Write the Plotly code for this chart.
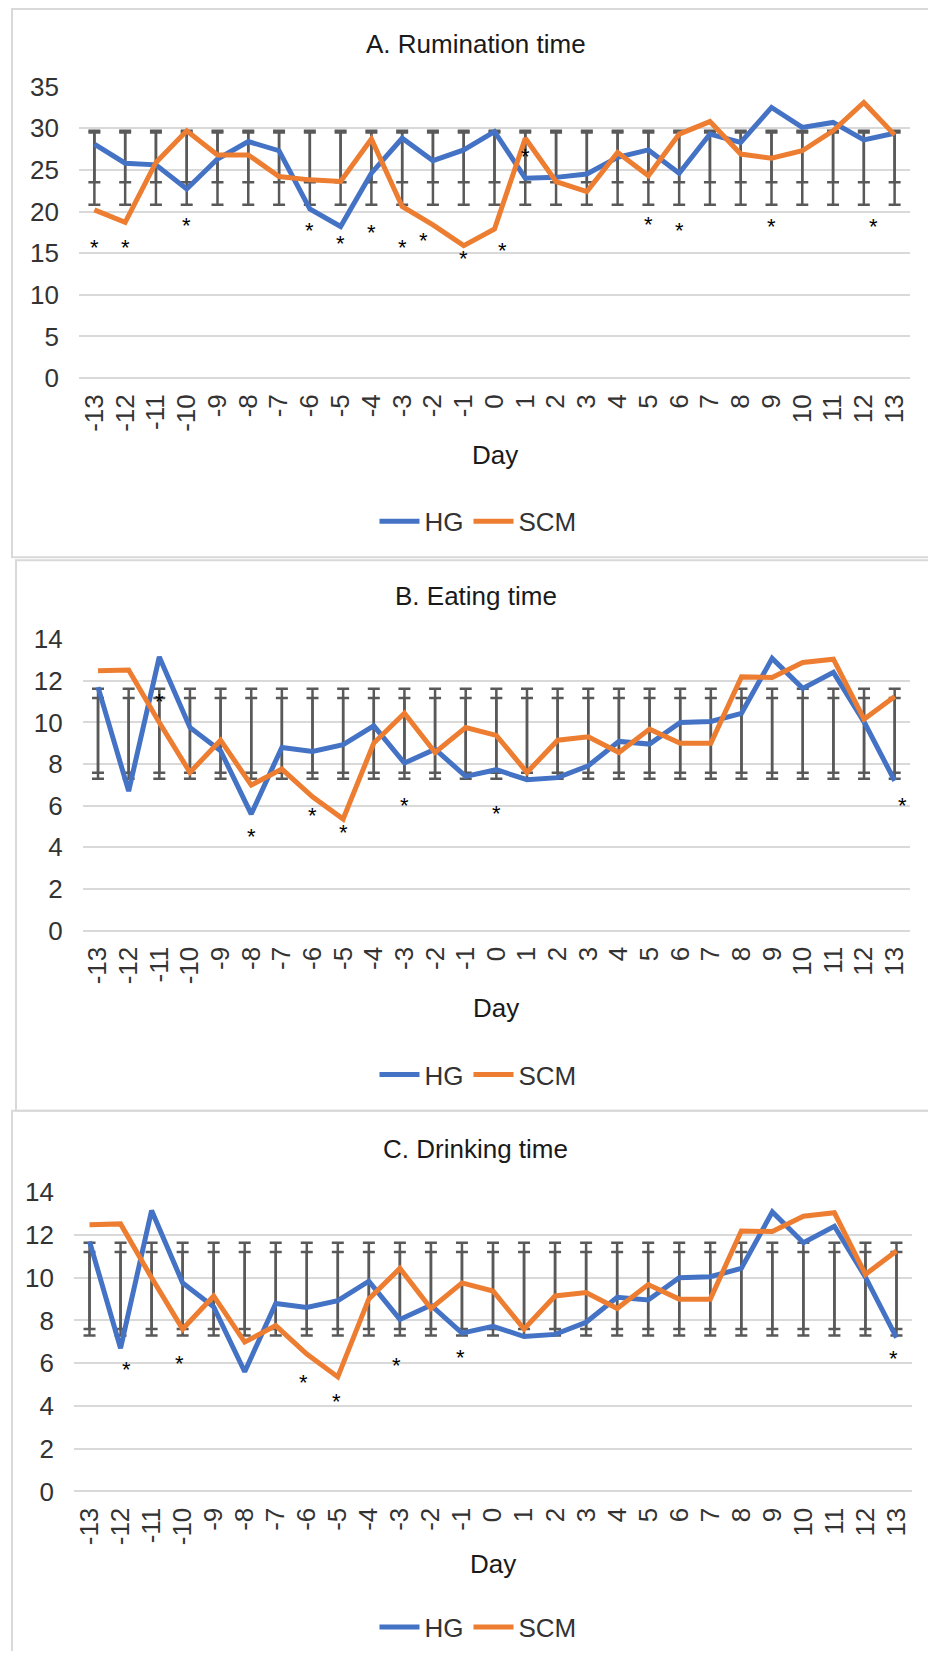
import plotly.graph_objects as go

# The page body has an 8px default margin; the figure is sized and positioned to fit the window.
OX, OY = 8, 8
W, H = 936 - 2 * OX, 1659 - 2 * OY


def px_x(x):
    return (x - OX) / W


def px_y(y):
    return 1 - (y - OY) / H


days = list(range(-13, 14))
day_labels = [str(d) for d in days]

# A. Rumination time
rum_hg = [28.1, 25.8, 25.6, 22.7, 26.3, 28.4, 27.3, 20.3, 18.2, 24.6, 28.8, 26.1, 27.4,
          29.6, 24.0, 24.1, 24.5, 26.5, 27.4, 24.6, 29.3, 28.3, 32.5, 30.1, 30.7, 28.6, 29.4]
rum_scm = [20.2, 18.7, 25.9, 29.7, 26.8, 26.8, 24.2, 23.8, 23.6, 28.7, 20.6, 18.4, 15.9,
           17.9, 28.8, 23.6, 22.4, 27.1, 24.3, 29.3, 30.8, 26.9, 26.4, 27.3, 29.7, 33.1, 29.2]
rum_err = [(20.8, 29.7), (23.5, 29.5)]
rum_star_x = [-13, -12, -10, -6, -5, -4, -3, -2.3, -1, 0.25, 1, 5, 6, 9, 12.3]
rum_star_y = [15.9, 15.9, 18.6, 18.0, 16.4, 17.7, 15.9, 16.7, 14.6, 15.6, 26.9, 18.7, 17.9, 18.5, 18.5]

# B. Eating time
eat_hg = [11.7, 6.7, 13.15, 9.76, 8.64, 5.6, 8.8, 8.61, 8.93, 9.84, 8.05, 8.72, 7.41,
          7.73, 7.25, 7.35, 7.92, 9.09, 8.96, 10.0, 10.05, 10.44, 13.08, 11.64, 12.41, 10.03, 7.2]
eat_scm = [12.48, 12.52, 10.0, 7.6, 9.15, 6.99, 7.76, 6.43, 5.36, 9.01, 10.44, 8.56, 9.76,
           9.38, 7.6, 9.15, 9.31, 8.56, 9.68, 9.0, 9.0, 12.19, 12.16, 12.88, 13.04, 10.16, 11.25]
eat_err = [(7.3, 11.62), (7.58, 11.18)]
eat_star_x = [-11, -8, -6, -5, -3, 0, 13.25]
eat_star_y = [11.1, 4.6, 5.65, 4.8, 6.13, 5.7, 6.1]

# C. Drinking time
drk_hg = list(eat_hg)
drk_scm = list(eat_scm)
drk_err = [(7.3, 11.64), (7.6, 11.2)]
drk_star_x = [-11.8, -10.1, -6.1, -5.05, -3.1, -1.05, 12.9]
drk_star_y = [5.8, 6.1, 5.2, 4.3, 6.0, 6.35, 6.3]

BLUE = "#4472C4"
ORANGE = "#ED7D31"
GRID = "#d9d9d9"
ERRC = "#595959"
TXT = "#333333"
FONT = "Liberation Sans, Arial, sans-serif"

panels = [
    dict(title="A. Rumination time", hg=rum_hg, scm=rum_scm, err=rum_err,
         sx=rum_star_x, sy=rum_star_y, yr=[0, 35], dt=5,
         xd=(79, 910), yd=(378.5, 86.7), title_y=44, day_y=456, leg_y=522, leg_x=478),
    dict(title="B. Eating time", hg=eat_hg, scm=eat_scm, err=eat_err,
         sx=eat_star_x, sy=eat_star_y, yr=[0, 14], dt=2,
         xd=(82.7, 910), yd=(931.7, 640), title_y=597, day_y=1009, leg_y=1076, leg_x=478),
    dict(title="C. Drinking time", hg=drk_hg, scm=drk_scm, err=drk_err,
         sx=drk_star_x, sy=drk_star_y, yr=[0, 14], dt=2,
         xd=(74, 912), yd=(1493.3, 1193.7), title_y=1150, day_y=1566, leg_y=1629, leg_x=478),
]

fig = go.Figure()
annotations = []
shapes = []
frames = [(12, 9, 558), (16, 561, 1112), (12, 1112, 1720)]
for (x0, y0, y1) in frames:
    shapes.append(dict(type="rect", xref="paper", yref="paper",
                       x0=px_x(x0), x1=1.05, y0=px_y(y1), y1=px_y(y0),
                       line=dict(color=GRID, width=2), fillcolor="rgba(0,0,0,0)", layer="below"))

layout_axes = {}
for i, p in enumerate(panels):
    n = "" if i == 0 else str(i + 1)
    xa, ya = "x" + n, "y" + n
    leg = "legend" + n
    for (lo, hi) in p["err"]:
        c = (lo + hi) / 2
        h = (hi - lo) / 2
        fig.add_trace(go.Scatter(
            x=days, y=[c] * len(days), mode="markers",
            marker=dict(color="rgba(0,0,0,0)", size=1),
            error_y=dict(type="data", array=[h] * len(days), symmetric=True,
                         color=ERRC, thickness=2.5, width=6),
            showlegend=False, hoverinfo="skip", xaxis=xa, yaxis=ya))
    fig.add_trace(go.Scatter(x=days, y=p["hg"], mode="lines", name="HG",
                             line=dict(color=BLUE, width=5), xaxis=xa, yaxis=ya, legend=leg))
    fig.add_trace(go.Scatter(x=days, y=p["scm"], mode="lines", name="SCM",
                             line=dict(color=ORANGE, width=5), xaxis=xa, yaxis=ya, legend=leg))
    for sx, sy in zip(p["sx"], p["sy"]):
        annotations.append(dict(x=sx, y=sy, xref=xa, yref=ya, text="*", showarrow=False,
                                font=dict(family=FONT, size=22, color="#000000"),
                                xanchor="center", yanchor="middle", yshift=-2))
    annotations.append(dict(x=px_x(476), y=px_y(p["title_y"]), xref="paper", yref="paper",
                            text=p["title"], showarrow=False,
                            font=dict(family=FONT, size=26, color="#1a1a1a"),
                            xanchor="center", yanchor="middle"))
    annotations.append(dict(x=px_x(sum(p["xd"]) / 2), y=px_y(p["day_y"]), xref="paper", yref="paper",
                            text="Day", showarrow=False,
                            font=dict(family=FONT, size=26, color="#1a1a1a"),
                            xanchor="center", yanchor="middle"))
    layout_axes["xaxis" + n] = dict(
        domain=[px_x(p["xd"][0]), px_x(p["xd"][1])], range=[-13.5, 13.5],
        tickmode="array", tickvals=days, ticktext=day_labels, tickangle=-90,
        showgrid=False, zeroline=False, showline=False, ticks="",
        ticklabelstandoff=10, automargin=False,
        tickfont=dict(family=FONT, size=26, color=TXT), anchor=ya, fixedrange=True)
    layout_axes["yaxis" + n] = dict(
        domain=[px_y(p["yd"][0]), px_y(p["yd"][1])], range=p["yr"],
        tick0=0, dtick=p["dt"], showgrid=True, gridcolor=GRID, gridwidth=2,
        zeroline=True, zerolinecolor=GRID, zerolinewidth=2, showline=False, ticks="",
        ticklabelstandoff=19, automargin=False,
        tickfont=dict(family=FONT, size=26, color=TXT), anchor=xa, fixedrange=True)
    layout_axes[leg] = dict(orientation="h", x=px_x(p["leg_x"]), y=px_y(p["leg_y"]),
                            xanchor="center", yanchor="middle",
                            font=dict(family=FONT, size=26, color=TXT),
                            bgcolor="rgba(0,0,0,0)", itemwidth=40)

fig.update_layout(width=W, height=H, margin=dict(l=0, r=0, t=0, b=0),
                  paper_bgcolor="white", plot_bgcolor="white",
                  annotations=annotations, shapes=shapes, **layout_axes)

fig.write_html("out.html")
